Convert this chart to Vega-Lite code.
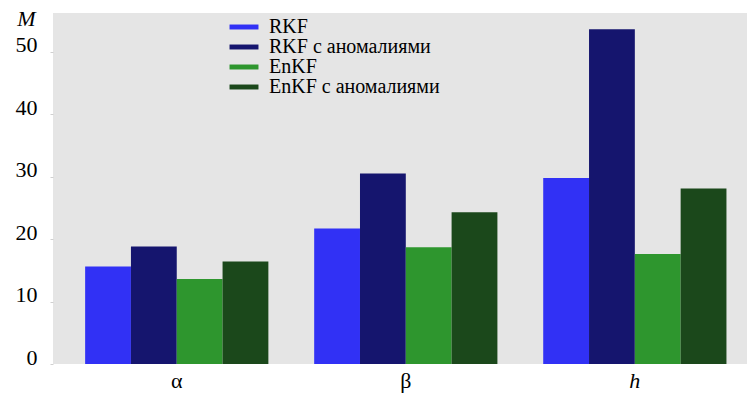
{
  "$schema": "https://vega.github.io/schema/vega-lite/v6.json",
  "width": 694,
  "height": 351,
  "autosize": {"type": "none"},
  "padding": {"left": 53, "top": 13, "right": 0, "bottom": 32},
  "background": "white",
  "config": {
    "view": {"fill": "#E5E5E5", "stroke": null},
    "font": "Liberation Serif",
    "axis": {"labelFont": "Liberation Serif", "titleFont": "Liberation Serif"},
    "legend": {"labelFont": "Liberation Serif"}
  },
  "data": {
    "values": [
      {"param": "α", "method": "RKF", "M": 15.6},
      {"param": "α", "method": "RKF с аномалиями", "M": 18.8},
      {"param": "α", "method": "EnKF", "M": 13.6},
      {"param": "α", "method": "EnKF с аномалиями", "M": 16.4},
      {"param": "β", "method": "RKF", "M": 21.7},
      {"param": "β", "method": "RKF с аномалиями", "M": 30.5},
      {"param": "β", "method": "EnKF", "M": 18.7},
      {"param": "β", "method": "EnKF с аномалиями", "M": 24.3},
      {"param": "h", "method": "RKF", "M": 29.8},
      {"param": "h", "method": "RKF с аномалиями", "M": 53.6},
      {"param": "h", "method": "EnKF", "M": 17.6},
      {"param": "h", "method": "EnKF с аномалиями", "M": 28.1}
    ]
  },
  "mark": {"type": "bar"},
  "encoding": {
    "x": {
      "field": "param",
      "type": "nominal",
      "sort": ["α", "β", "h"],
      "scale": {"paddingInner": 0.2, "paddingOuter": 0.115, "align": 0.61},
      "axis": {
        "title": null,
        "labelAngle": 0,
        "domain": false,
        "ticks": false,
        "labelFontSize": 22,
        "labelPadding": 6,
        "labelColor": "black",
        "labelFontStyle": {"condition": {"test": "datum.value === 'h'", "value": "italic"}, "value": "normal"}
      }
    },
    "xOffset": {
      "field": "method",
      "type": "nominal",
      "sort": ["RKF", "RKF с аномалиями", "EnKF", "EnKF с аномалиями"],
      "scale": {"paddingInner": 0, "paddingOuter": 0}
    },
    "y": {
      "field": "M",
      "type": "quantitative",
      "scale": {"domain": [0, 56.2], "nice": false},
      "axis": {
        "values": [0, 10, 20, 30, 40, 50],
        "grid": false,
        "domain": false,
        "tickColor": "#d0d0d0",
        "tickSize": 3,
        "labelFontSize": 22,
        "labelColor": "black",
        "labelPadding": 13,
        "labelOffset": -7,
        "title": "M",
        "titleAngle": 0,
        "titleFontStyle": "italic",
        "titleFontWeight": "normal",
        "titleFontSize": 22,
        "titleColor": "black",
        "titleX": -27,
        "titleY": 5,
        "titleAlign": "center",
        "titleBaseline": "middle"
      }
    },
    "color": {
      "field": "method",
      "type": "nominal",
      "sort": ["RKF", "RKF с аномалиями", "EnKF", "EnKF с аномалиями"],
      "scale": {
        "domain": ["RKF", "RKF с аномалиями", "EnKF", "EnKF с аномалиями"],
        "range": ["#3131F5", "#15156E", "#2E962E", "#1B481B"]
      },
      "legend": {
        "title": null,
        "orient": "none",
        "legendX": 181,
        "legendY": 4,
        "padding": 0,
        "labelFontSize": 20,
        "labelLimit": 0,
        "labelColor": "black",
        "labelOffset": 15,
        "rowPadding": -1,
        "symbolType": "M-1.93,-0.33H1.93V0.33H-1.93Z",
        "symbolSize": 225,
        "symbolStrokeWidth": 0,
        "symbolOpacity": 1
      }
    }
  }
}
